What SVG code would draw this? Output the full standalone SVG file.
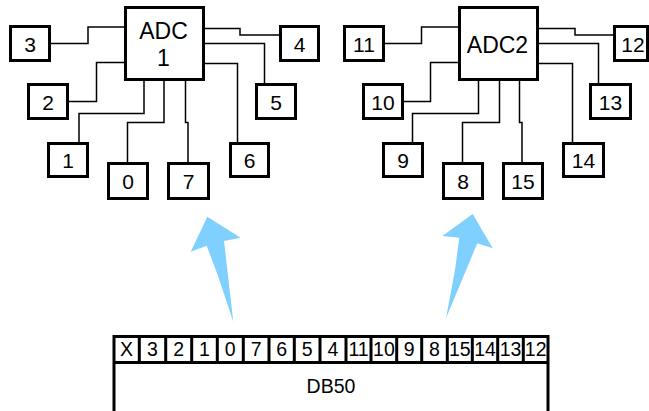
<svg xmlns="http://www.w3.org/2000/svg" width="649" height="411" viewBox="0 0 649 411">
<style>
.box{fill:#fff;stroke:#000;stroke-width:3}
.lbl{font-family:"Liberation Sans",Arial,sans-serif;font-size:21px;text-anchor:middle;fill:#000}
.big{font-family:"Liberation Sans",Arial,sans-serif;font-size:23px;text-anchor:middle;fill:#000}
.cell{font-family:"Liberation Sans",Arial,sans-serif;font-size:19.5px;text-anchor:middle;fill:#000}
.wire{fill:none;stroke:#000;stroke-width:1.5}
.arrow{fill:#80D0FF}
</style>
<rect width="649" height="411" fill="#fff"/>
<g id="connectors">
<path class="wire" d="M50,43.5 H88 V27 H125"/>
<path class="wire" d="M68,101.5 H96.5 V62.5 H125"/>
<path class="wire" d="M79,142 V113.5 H144 V81"/>
<path class="wire" d="M127.5,162 V122.5 H164 V81"/>
<path class="wire" d="M185.5,81 V122.5 H188 V162"/>
<path class="wire" d="M204,63.5 H237.5 V142"/>
<path class="wire" d="M204,43.5 H264.5 V83"/>
<path class="wire" d="M204,28.5 H240 V35 H279"/>
<path class="wire" d="M384,43.5 H421.5 V27 H459"/>
<path class="wire" d="M403,101.5 H430.5 V62.5 H459"/>
<path class="wire" d="M412.5,142 V113.5 H478.5 V81"/>
<path class="wire" d="M462.5,162 V122.5 H499.5 V81"/>
<path class="wire" d="M519.5,81 V122.5 H522 V162"/>
<path class="wire" d="M538,63.5 H572.5 V142"/>
<path class="wire" d="M538,43.5 H598.5 V83"/>
<path class="wire" d="M538,28.5 H575 V35 H613"/>
<path class="arrow" d="M207.3,216.7 L240.7,237.7 L224,241 L233.3,321.7 L218.3,276.7 L206.7,245.7 L190.7,251.7 Z"/>
<path class="arrow" d="M472.7,214 L492.7,248.3 L477.3,243.3 L446,318.3 L455,270 L459.3,237.7 L442.3,236 Z"/>
</g>
<g id="adc1"><rect class="box" x="125.5" y="7.5" width="78" height="72"/><text class="big" x="163.5" y="38.5">ADC</text><text class="big" x="163.5" y="66">1</text></g>
<g id="adc2"><rect class="box" x="459.5" y="7.5" width="78" height="72"/><text class="big" x="497.5" y="53">ADC2</text></g>
<g id="n3"><rect class="box" x="10.5" y="26.5" width="39" height="34"/><text class="lbl" x="30" y="51.5">3</text></g>
<g id="n4"><rect class="box" x="280.5" y="26.5" width="38" height="34"/><text class="lbl" x="299.5" y="51.5">4</text></g>
<g id="n2"><rect class="box" x="28.5" y="84.5" width="39" height="34"/><text class="lbl" x="48" y="109.5">2</text></g>
<g id="n5"><rect class="box" x="256.5" y="84.5" width="39" height="34"/><text class="lbl" x="276" y="109.5">5</text></g>
<g id="n1"><rect class="box" x="48.5" y="143.5" width="39" height="33"/><text class="lbl" x="68" y="168">1</text></g>
<g id="n6"><rect class="box" x="230.5" y="143.5" width="38" height="33"/><text class="lbl" x="249.5" y="168">6</text></g>
<g id="n0"><rect class="box" x="108.5" y="163.5" width="39" height="35"/><text class="lbl" x="128" y="189">0</text></g>
<g id="n7"><rect class="box" x="168.5" y="163.5" width="40" height="35"/><text class="lbl" x="188.5" y="189">7</text></g>
<g id="n11"><rect class="box" x="344.5" y="26.5" width="39" height="34"/><text class="lbl" x="364" y="51.5">11</text></g>
<g id="n12"><rect class="box" x="614.5" y="26.5" width="33" height="34"/><text class="lbl" x="633" y="51.5">12</text></g>
<g id="n10"><rect class="box" x="363.5" y="84.5" width="39" height="34"/><text class="lbl" x="383" y="109.5">10</text></g>
<g id="n13"><rect class="box" x="590.5" y="84.5" width="40" height="34"/><text class="lbl" x="610.5" y="109.5">13</text></g>
<g id="n9"><rect class="box" x="383.5" y="143.5" width="39" height="33"/><text class="lbl" x="403" y="168">9</text></g>
<g id="n14"><rect class="box" x="563.5" y="143.5" width="40" height="33"/><text class="lbl" x="583.5" y="168">14</text></g>
<g id="n8"><rect class="box" x="443.5" y="163.5" width="39" height="35"/><text class="lbl" x="463" y="189">8</text></g>
<g id="n15"><rect class="box" x="503.5" y="163.5" width="39" height="35"/><text class="lbl" x="523" y="189">15</text></g>
<g id="db50">
<rect class="box" x="114" y="336.5" width="434" height="90"/>
<path class="wire" style="stroke-width:3" d="M114,362.5 H548 M139.3,336.5 V362.5 M165.7,336.5 V362.5 M191.7,336.5 V362.5 M217.3,336.5 V362.5 M243.3,336.5 V362.5 M269,336.5 V362.5 M294.3,336.5 V362.5 M320,336.5 V362.5 M346,336.5 V362.5 M371,336.5 V362.5 M396.7,336.5 V362.5 M421.7,336.5 V362.5 M447.3,336.5 V362.5 M472.3,336.5 V362.5 M497.7,336.5 V362.5 M523.3,336.5 V362.5"/>
<text class="cell" x="126.5" y="356">X</text>
<text class="cell" x="152.5" y="356">3</text>
<text class="cell" x="178.7" y="356">2</text>
<text class="cell" x="204.5" y="356">1</text>
<text class="cell" x="230.3" y="356">0</text>
<text class="cell" x="256.2" y="356">7</text>
<text class="cell" x="281.7" y="356">6</text>
<text class="cell" x="307.2" y="356">5</text>
<text class="cell" x="333" y="356">4</text>
<text class="cell" x="358.5" y="356">11</text>
<text class="cell" x="383.9" y="356">10</text>
<text class="cell" x="409.2" y="356">9</text>
<text class="cell" x="434.5" y="356">8</text>
<text class="cell" x="459.8" y="356">15</text>
<text class="cell" x="485" y="356">14</text>
<text class="cell" x="510.5" y="356">13</text>
<text class="cell" x="535.7" y="356">12</text>
<text class="cell" x="331" y="392.5">DB50</text>
</g>
</svg>
